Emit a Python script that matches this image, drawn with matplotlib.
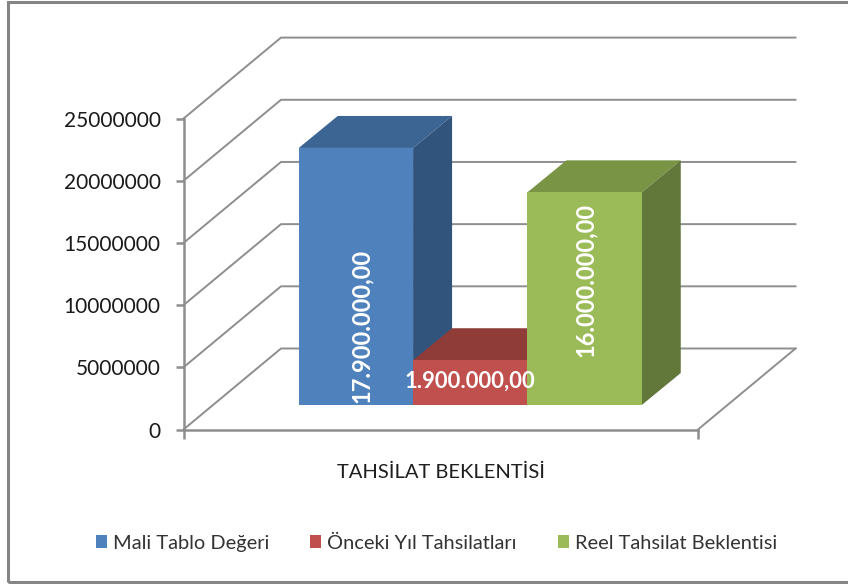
import matplotlib
matplotlib.use('Agg')
import matplotlib.pyplot as plt
from matplotlib.patches import Patch, Rectangle

plt.rcParams['font.family'] = ['Lato', 'DejaVu Sans']

# values as drawn in the picture (bars sit higher than their printed labels)
series = ['Mali Tablo Değeri', 'Önceki Yıl Tahsilatları', 'Reel Tahsilat Beklentisi']
drawn_values = [20670000, 3600000, 17100000]
value_labels = ['17.900.000,00', '1.900.000,00', '16.000.000,00']
colors = ['#4F81BD', '#C0504D', '#9BBB59']
top_colors = ['#3D6594', '#8F3C39', '#7A9445']
side_colors = ['#31547D', '#8F3C39', '#62773A']
y_ticks = [0, 5000000, 10000000, 15000000, 20000000, 25000000]
category = 'TAHSİLAT BEKLENTİSİ'

W, H = 848, 584
fig = plt.figure(figsize=(W / 100, H / 100), dpi=100)
ax = fig.add_axes([183.5 / W, (H - 429.5) / H, 514.5 / W, 310.9 / H])
ax.patch.set_alpha(0)

XMIN, XMAX = -2.25, 2.25
YMAX = 25000000
ax.set_xlim(XMIN, XMAX)
ax.set_ylim(0, YMAX)

# pixel -> data
px_x = (XMAX - XMIN) / 514.5
px_y = YMAX / 310.9

GRID = '#8E8E8E'
# wall offset, bar offset from the front, and bar depth
wall_dx, wall_dy = 97.5 * px_x, 81 * px_y
front_dx, front_dy = 29.5 * px_x, 24.5 * px_y
depth_dx, depth_dy = 39 * px_x, 32 * px_y

# back wall grid with the diagonals
for v in y_ticks:
    ax.plot([XMIN, XMIN + wall_dx, XMAX + wall_dx],
            [v, v + wall_dy, v + wall_dy],
            color=GRID, lw=1.4, clip_on=False, zorder=1)
# floor right edge
ax.plot([XMAX, XMAX + wall_dx], [0, wall_dy], color=GRID, lw=1.4, clip_on=False, zorder=1)

positions = [-1, 0, 1]
width = 1.0
for i, (x, h) in enumerate(zip(positions, drawn_values)):
    x0 = x - width / 2 + front_dx
    x1 = x0 + width
    y0 = front_dy
    y1 = front_dy + h
    z = 2 + i  # left to right, later bars cover the side of the earlier ones
    # top and side faces
    ax.fill([x0, x1, x1 + depth_dx, x0 + depth_dx], [y1, y1, y1 + depth_dy, y1 + depth_dy],
            color=top_colors[i], lw=0, clip_on=False, zorder=z)
    ax.fill([x1, x1 + depth_dx, x1 + depth_dx, x1], [y0, y0 + depth_dy, y1 + depth_dy, y1],
            color=side_colors[i], lw=0, clip_on=False, zorder=z)
    ax.bar(x0 + width / 2, h, width=width, bottom=y0, color=colors[i], lw=0,
           clip_on=False, zorder=z)

# data labels
ax.text(positions[0] + front_dx + 5 * px_x, front_dy + 79 * px_y, value_labels[0], color='white',
        fontsize=17, fontweight='bold', rotation=90, ha='center', va='center', zorder=6, clip_on=False)
ax.text(positions[1] + front_dx, front_dy + 24 * px_y, value_labels[1], color='white',
        fontsize=15.8, fontweight='bold', ha='center', va='center', zorder=6, clip_on=False)
ax.text(positions[2] + front_dx + 1 * px_x, front_dy + 125.5 * px_y, value_labels[2], color='white',
        fontsize=17, fontweight='bold', rotation=90, ha='center', va='center', zorder=6, clip_on=False)

# axes
for s in ['top', 'right']:
    ax.spines[s].set_visible(False)
for s in ['left', 'bottom']:
    ax.spines[s].set_color(GRID)
    ax.spines[s].set_linewidth(1.8)
ax.set_yticks(y_ticks)
ax.set_yticklabels([str(v) for v in y_ticks])
ax.set_xticks([XMIN, XMAX])
ax.set_xticklabels(['', ''])
ax.tick_params(axis='y', length=5.5, width=1.8, color=GRID, labelsize=15, labelcolor='#1A1A1A', pad=11)
ax.tick_params(axis='x', length=6.5, width=1.8, color=GRID)
ax.set_xlabel(category, fontsize=14.5, color='#1F1F1F', labelpad=14.4)

handles = [Patch(facecolor=c, edgecolor='none') for c in colors]
fig.legend(handles, series, loc='center', bbox_to_anchor=(436.5 / W, (H - 543) / H), ncol=3,
           frameon=False, fontsize=14.4, labelcolor='#333333', handlelength=0.55, handleheight=0.55,
           handletextpad=0.3, columnspacing=2.05, borderpad=0, borderaxespad=0)

# chart frame
fig.add_artist(Rectangle((8 / W, 2 / H), (W + 20) / W, (H - 4) / H, transform=fig.transFigure,
                         fill=False, edgecolor='#858585', lw=2.2))

fig.savefig('out.png', dpi=100)
